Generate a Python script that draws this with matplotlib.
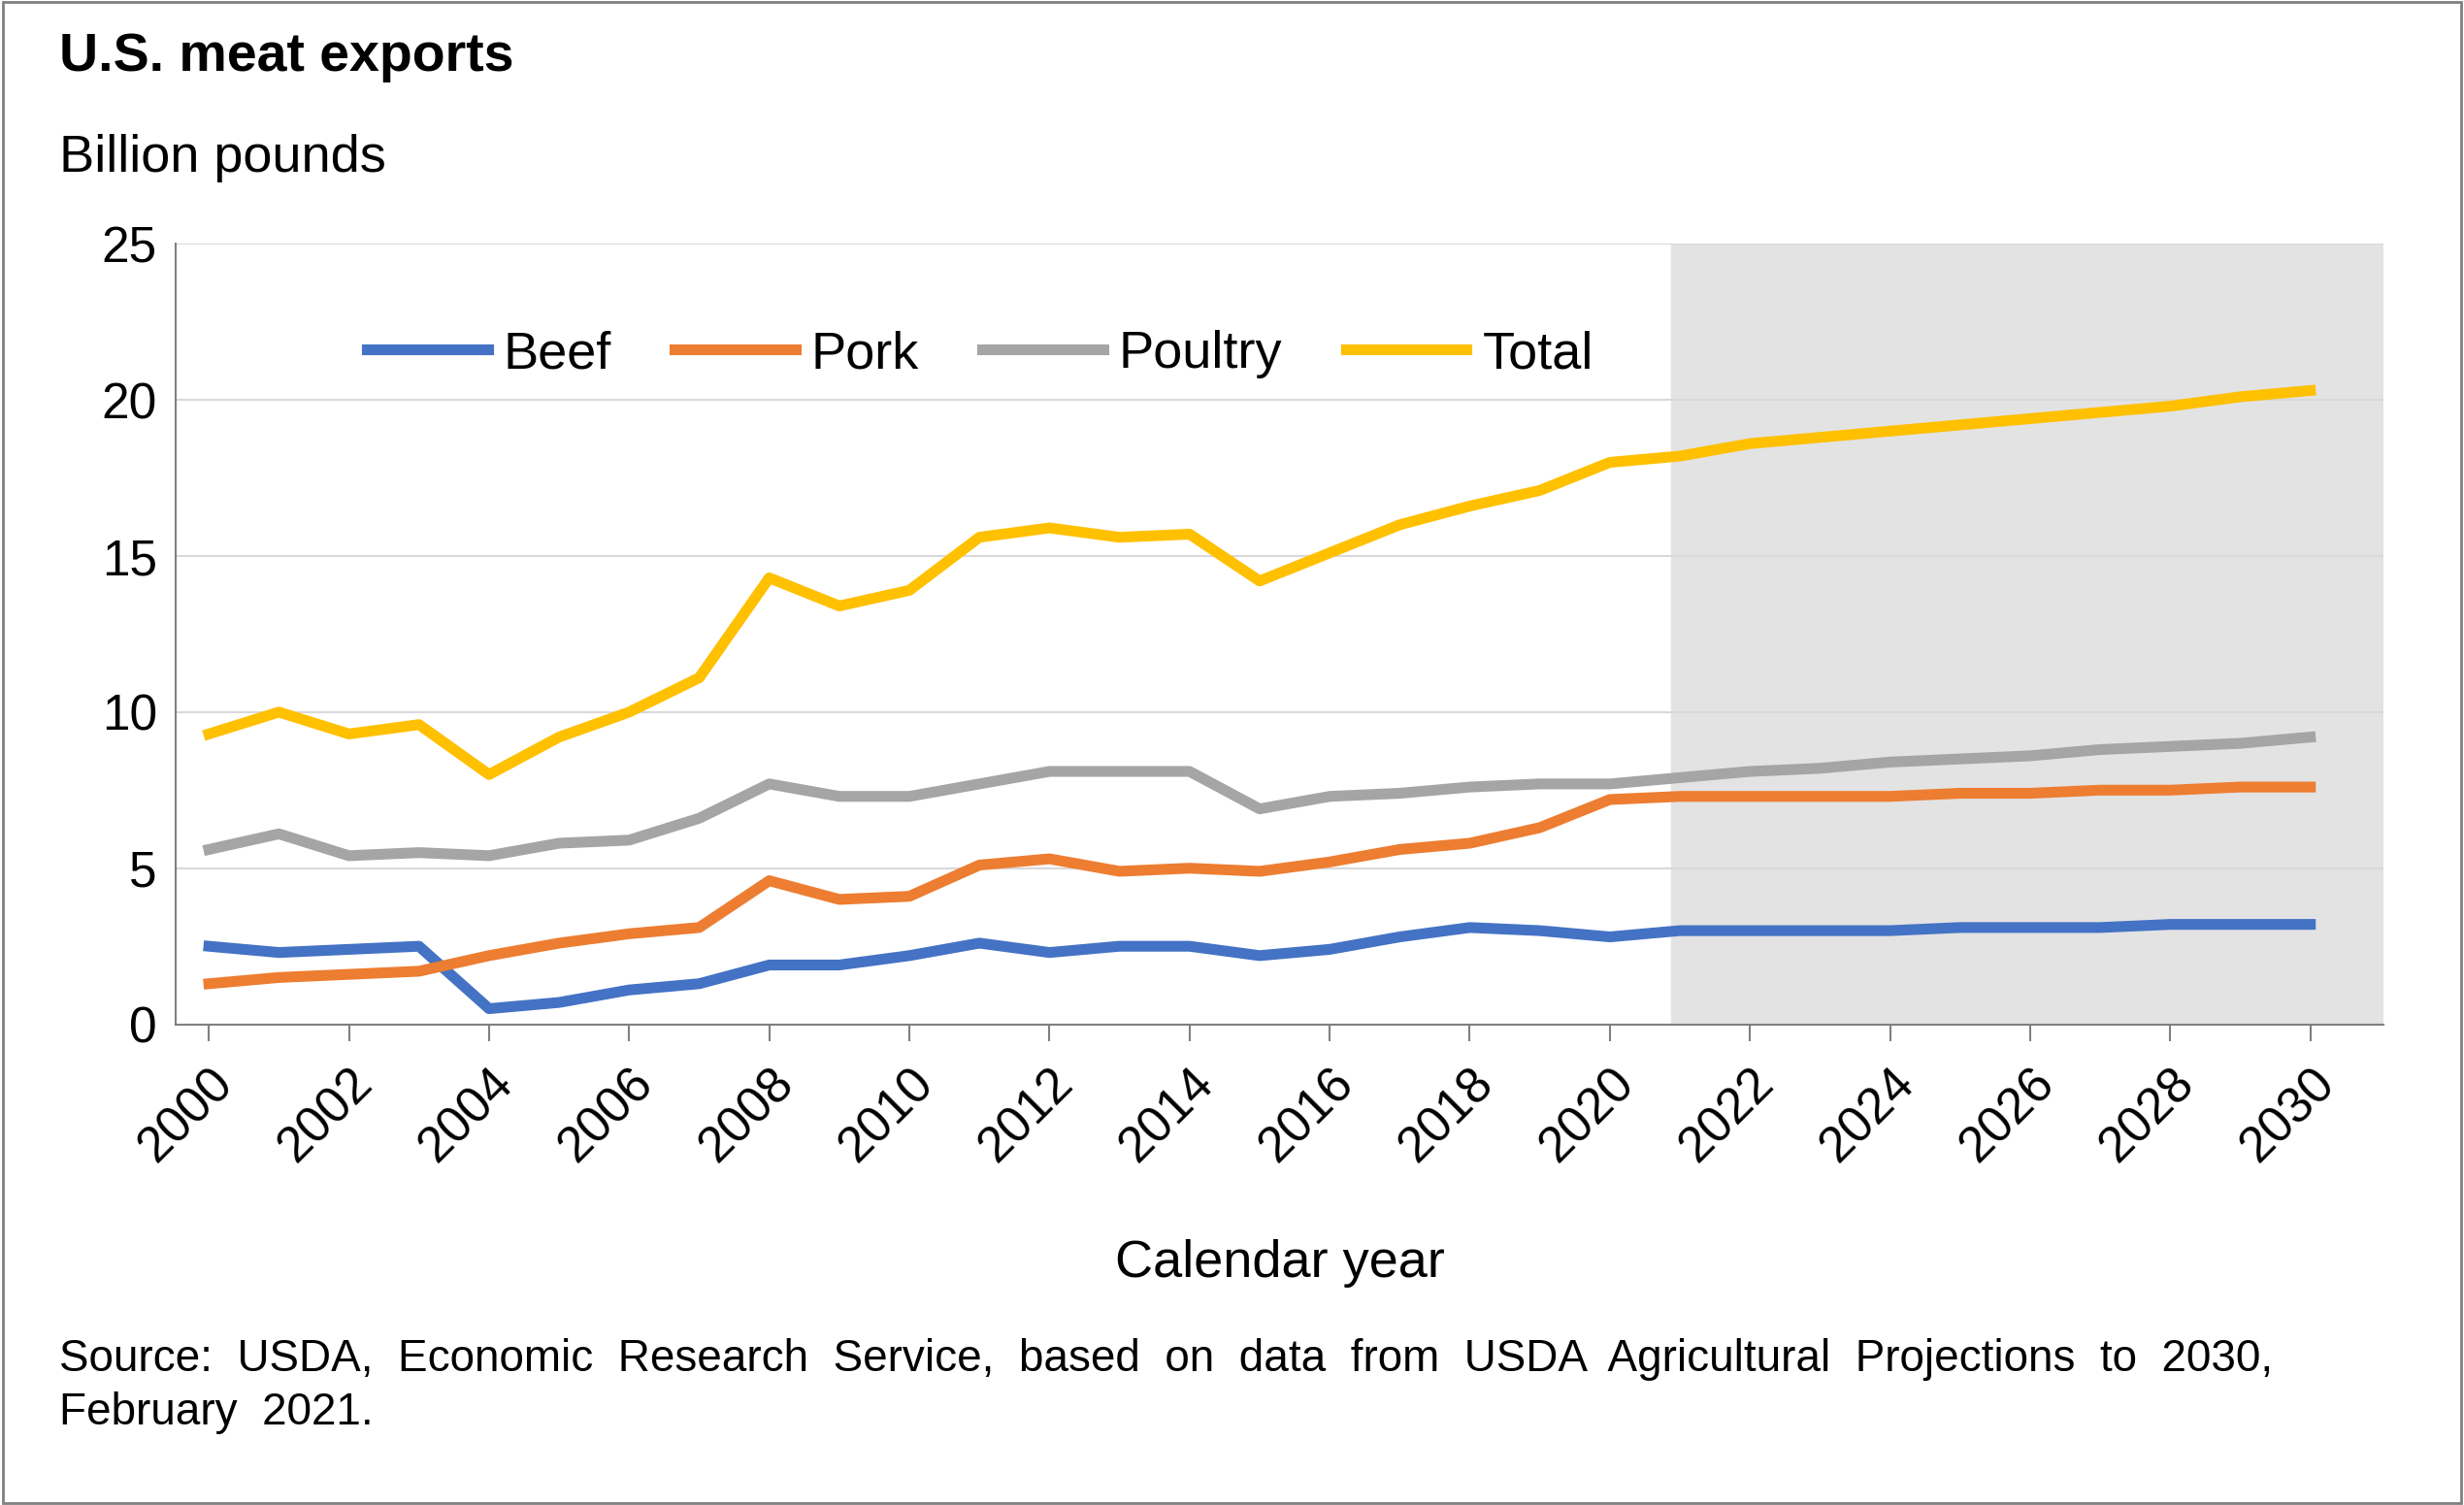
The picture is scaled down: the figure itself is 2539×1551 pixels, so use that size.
import matplotlib.pyplot as plt
from matplotlib.patches import Rectangle

years = list(range(2000, 2031))
beef = [2.5, 2.3, 2.4, 2.5, 0.5, 0.7, 1.1, 1.3, 1.9, 1.9, 2.2, 2.6, 2.3, 2.5, 2.5, 2.2,
        2.4, 2.8, 3.1, 3.0, 2.8, 3.0, 3.0, 3.0, 3.0, 3.1, 3.1, 3.1, 3.2, 3.2, 3.2]
pork = [1.3, 1.5, 1.6, 1.7, 2.2, 2.6, 2.9, 3.1, 4.6, 4.0, 4.1, 5.1, 5.3, 4.9, 5.0, 4.9,
        5.2, 5.6, 5.8, 6.3, 7.2, 7.3, 7.3, 7.3, 7.3, 7.4, 7.4, 7.5, 7.5, 7.6, 7.6]
poultry = [5.6, 6.1, 5.4, 5.5, 5.4, 5.8, 5.9, 6.6, 7.7, 7.3, 7.3, 7.7, 8.1, 8.1, 8.1, 6.9,
           7.3, 7.4, 7.6, 7.7, 7.7, 7.9, 8.1, 8.2, 8.4, 8.5, 8.6, 8.8, 8.9, 9.0, 9.2]
total = [9.3, 10.0, 9.3, 9.6, 8.0, 9.2, 10.0, 11.1, 14.3, 13.4, 13.9, 15.6, 15.9, 15.6, 15.7, 14.2,
         15.1, 16.0, 16.6, 17.1, 18.0, 18.2, 18.6, 18.8, 19.0, 19.2, 19.4, 19.6, 19.8, 20.1, 20.3]

plt.rcParams['font.family'] = ['Liberation Sans', 'DejaVu Sans']

fig = plt.figure(figsize=(25.39, 15.51), dpi=100)
fig.patches.append(Rectangle((0.001, 0.001), 0.998, 0.998, transform=fig.transFigure,
                             fill=False, edgecolor='#808080', linewidth=2))
ax = fig.add_axes([0.0714, 0.3194, 0.8961, 0.5186])

ax.axvspan(20.87, 31.05, color='#e3e3e3', zorder=0)
series = [('Beef', beef, '#4472c4'), ('Pork', pork, '#ed7d31'),
          ('Poultry', poultry, '#a5a5a5'), ('Total', total, '#ffc000')]
for name, vals, col in series:
    ax.plot(range(len(years)), vals, color=col, linewidth=8, label=name, zorder=3)

ax.set_xlim(-0.47, 31.05)
ax.set_ylim(0, 25)
ax.set_yticks([0, 5, 10, 15, 20, 25])
ax.yaxis.grid(True, color='#d9d9d9', linewidth=1.5)
ax.set_axisbelow(True)
ax.set_xticks(range(0, 31, 2))
ax.set_xticklabels([str(y) for y in years[::2]], rotation=45, ha='right', rotation_mode='anchor')
ax.tick_params(axis='both', labelsize=37, length=0, pad=14)
ax.tick_params(axis='x', length=12, width=1.5, color='#808080', direction='out')
for s in ['top', 'right']:
    ax.spines[s].set_visible(False)
for s in ['left', 'bottom']:
    ax.spines[s].set_color('#808080')
    ax.spines[s].set_linewidth(1.5)

ax.legend(loc='upper left', bbox_to_anchor=(0.065, 0.95), ncol=4, frameon=False,
          fontsize=39, handlelength=2.3, columnspacing=1.2, handletextpad=0.3)

ax.set_xlabel('Calendar year', fontsize=39, labelpad=50)

fig.text(0.024, 0.962, 'U.S. meat exports', fontsize=40, fontweight='bold', va='center')
fig.text(0.024, 0.895, 'Billion pounds', fontsize=39, va='center')
fig.text(0.024, 0.079, 'Source:  USDA,  Economic  Research  Service,  based  on  data  from  USDA  Agricultural  Projections  to  2030,\nFebruary  2021.',
         fontsize=33, va='center', linespacing=1.35)

fig.savefig('out.png', dpi=100)
